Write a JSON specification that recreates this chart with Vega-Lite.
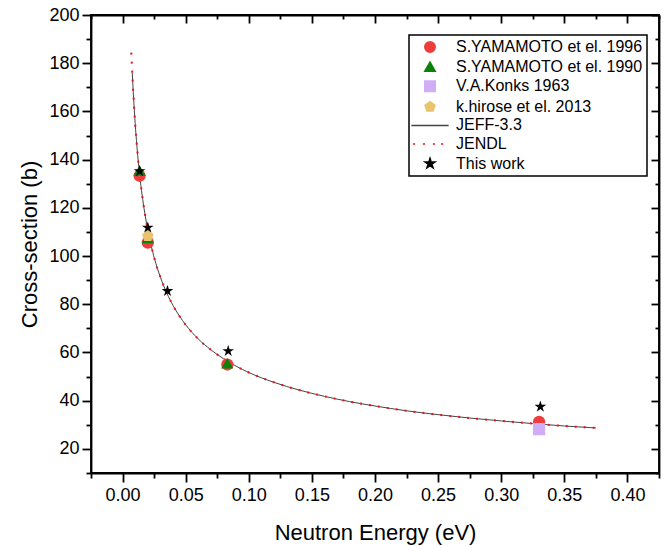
{
  "$schema": "https://vega.github.io/schema/vega-lite/v6.json",
  "width": 568,
  "height": 458,
  "autosize": {"type": "none"},
  "padding": {"left": 91, "top": 15, "right": 11, "bottom": 73},
  "datasets": {
    "curves": [
      {"series": "JEFF-3.3", "E": 0.0077, "xs": 176.1},
      {"series": "JEFF-3.3", "E": 0.0085, "xs": 167.8},
      {"series": "JEFF-3.3", "E": 0.009, "xs": 163.2},
      {"series": "JEFF-3.3", "E": 0.010, "xs": 155.0},
      {"series": "JEFF-3.3", "E": 0.011, "xs": 148.0},
      {"series": "JEFF-3.3", "E": 0.012, "xs": 141.8},
      {"series": "JEFF-3.3", "E": 0.013, "xs": 136.4},
      {"series": "JEFF-3.3", "E": 0.014, "xs": 131.6},
      {"series": "JEFF-3.3", "E": 0.016, "xs": 123.4},
      {"series": "JEFF-3.3", "E": 0.018, "xs": 116.6},
      {"series": "JEFF-3.3", "E": 0.020, "xs": 110.8},
      {"series": "JEFF-3.3", "E": 0.0253, "xs": 98.9},
      {"series": "JEFF-3.3", "E": 0.030, "xs": 91.2},
      {"series": "JEFF-3.3", "E": 0.035, "xs": 84.7},
      {"series": "JEFF-3.3", "E": 0.040, "xs": 79.5},
      {"series": "JEFF-3.3", "E": 0.050, "xs": 71.5},
      {"series": "JEFF-3.3", "E": 0.060, "xs": 65.6},
      {"series": "JEFF-3.3", "E": 0.070, "xs": 61.1},
      {"series": "JEFF-3.3", "E": 0.080, "xs": 57.4},
      {"series": "JEFF-3.3", "E": 0.090, "xs": 54.3},
      {"series": "JEFF-3.3", "E": 0.100, "xs": 51.7},
      {"series": "JEFF-3.3", "E": 0.120, "xs": 47.6},
      {"series": "JEFF-3.3", "E": 0.140, "xs": 44.4},
      {"series": "JEFF-3.3", "E": 0.160, "xs": 41.8},
      {"series": "JEFF-3.3", "E": 0.180, "xs": 39.6},
      {"series": "JEFF-3.3", "E": 0.200, "xs": 37.8},
      {"series": "JEFF-3.3", "E": 0.225, "xs": 35.8},
      {"series": "JEFF-3.3", "E": 0.250, "xs": 34.2},
      {"series": "JEFF-3.3", "E": 0.275, "xs": 32.8},
      {"series": "JEFF-3.3", "E": 0.300, "xs": 31.6},
      {"series": "JEFF-3.3", "E": 0.325, "xs": 30.5},
      {"series": "JEFF-3.3", "E": 0.350, "xs": 29.5},
      {"series": "JEFF-3.3", "E": 0.375, "xs": 28.7},
      {"series": "JENDL", "E": 0.0069, "xs": 184.4},
      {"series": "JENDL", "E": 0.0073, "xs": 180.0},
      {"series": "JENDL", "E": 0.0077, "xs": 176.1},
      {"series": "JENDL", "E": 0.0085, "xs": 167.8},
      {"series": "JENDL", "E": 0.009, "xs": 163.2},
      {"series": "JENDL", "E": 0.010, "xs": 155.0},
      {"series": "JENDL", "E": 0.011, "xs": 148.0},
      {"series": "JENDL", "E": 0.012, "xs": 141.8},
      {"series": "JENDL", "E": 0.013, "xs": 136.4},
      {"series": "JENDL", "E": 0.014, "xs": 131.6},
      {"series": "JENDL", "E": 0.016, "xs": 123.4},
      {"series": "JENDL", "E": 0.018, "xs": 116.6},
      {"series": "JENDL", "E": 0.020, "xs": 110.8},
      {"series": "JENDL", "E": 0.0253, "xs": 98.9},
      {"series": "JENDL", "E": 0.030, "xs": 91.2},
      {"series": "JENDL", "E": 0.035, "xs": 84.7},
      {"series": "JENDL", "E": 0.040, "xs": 79.5},
      {"series": "JENDL", "E": 0.050, "xs": 71.5},
      {"series": "JENDL", "E": 0.060, "xs": 65.6},
      {"series": "JENDL", "E": 0.070, "xs": 61.1},
      {"series": "JENDL", "E": 0.080, "xs": 57.4},
      {"series": "JENDL", "E": 0.090, "xs": 54.3},
      {"series": "JENDL", "E": 0.100, "xs": 51.7},
      {"series": "JENDL", "E": 0.120, "xs": 47.6},
      {"series": "JENDL", "E": 0.140, "xs": 44.4},
      {"series": "JENDL", "E": 0.160, "xs": 41.8},
      {"series": "JENDL", "E": 0.180, "xs": 39.6},
      {"series": "JENDL", "E": 0.200, "xs": 37.8},
      {"series": "JENDL", "E": 0.225, "xs": 35.8},
      {"series": "JENDL", "E": 0.250, "xs": 34.2},
      {"series": "JENDL", "E": 0.275, "xs": 32.8},
      {"series": "JENDL", "E": 0.300, "xs": 31.6},
      {"series": "JENDL", "E": 0.325, "xs": 30.5},
      {"series": "JENDL", "E": 0.350, "xs": 29.5},
      {"series": "JENDL", "E": 0.375, "xs": 28.7}
    ],
    "measurements": [
      {"series": "S.YAMAMOTO et el. 1996", "E": 0.0135, "xs": 133.3},
      {"series": "S.YAMAMOTO et el. 1996", "E": 0.020, "xs": 105.6},
      {"series": "S.YAMAMOTO et el. 1996", "E": 0.083, "xs": 55.0},
      {"series": "S.YAMAMOTO et el. 1996", "E": 0.330, "xs": 31.2},
      {"series": "S.YAMAMOTO et el. 1990", "E": 0.0135, "xs": 135.5},
      {"series": "S.YAMAMOTO et el. 1990", "E": 0.020, "xs": 107.5},
      {"series": "S.YAMAMOTO et el. 1990", "E": 0.083, "xs": 55.5},
      {"series": "V.A.Konks 1963", "E": 0.330, "xs": 28.2},
      {"series": "k.hirose et el. 2013", "E": 0.020, "xs": 108.3},
      {"series": "This work", "E": 0.0135, "xs": 135.2},
      {"series": "This work", "E": 0.020, "xs": 111.8},
      {"series": "This work", "E": 0.0356, "xs": 85.5},
      {"series": "This work", "E": 0.0837, "xs": 60.6},
      {"series": "This work", "E": 0.331, "xs": 37.5}
    ]
  },
  "config": {
    "view": {"stroke": "black", "strokeWidth": 1.8},
    "font": "Liberation Sans",
    "axis": {
      "grid": false,
      "domainColor": "black",
      "domainWidth": 1.8,
      "tickColor": "black",
      "tickWidth": 1.8,
      "labelFont": "Liberation Sans",
      "labelFontSize": 18,
      "labelColor": "black",
      "labelOverlap": false,
      "titleFont": "Liberation Sans",
      "titleFontSize": 22,
      "titleFontWeight": "normal",
      "titleColor": "black"
    },
    "legend": {
      "orient": "none",
      "legendX": 318,
      "legendY": 20,
      "strokeColor": "black",
      "strokeWidth": 1.5,
      "fillColor": "white",
      "padding": 4,
      "symbolOffset": 9,
      "labelOffset": 18,
      "labelFont": "Liberation Sans",
      "labelFontSize": 16,
      "labelColor": "black",
      "labelLimit": 400,
      "symbolSize": 110,
      "rowPadding": 2.6
    }
  },
  "layer": [
    {
      "data": {"name": "curves"},
      "transform": [{"filter": "datum.series === 'JEFF-3.3'"}],
      "mark": {"type": "line", "strokeWidth": 1, "interpolate": "monotone"},
      "encoding": {
        "x": {
          "field": "E", "type": "quantitative",
          "scale": {"domain": [-0.025, 0.425], "nice": false, "zero": false},
          "axis": {
            "orient": "bottom",
            "title": "Neutron Energy (eV)",
            "titleY": 59,
            "titleBaseline": "middle",
            "values": [-0.025, 0, 0.025, 0.05, 0.075, 0.1, 0.125, 0.15, 0.175, 0.2, 0.225, 0.25, 0.275, 0.3, 0.325, 0.35, 0.375, 0.4, 0.425],
            "labelExpr": "abs(datum.value * 20 - round(datum.value * 20)) < 0.001 ? format(datum.value, '.2f') : ''",
            "tickSize": {"condition": {"test": "abs(datum.value * 20 - round(datum.value * 20)) < 0.001", "value": 9}, "value": 5},
            "labelPadding": 4
          }
        },
        "y": {
          "field": "xs", "type": "quantitative",
          "scale": {"domain": [10, 200], "nice": false, "zero": false},
          "axis": {
            "orient": "left",
            "title": "Cross-section (b)",
            "titleX": -62,
            "titleBaseline": "middle",
            "values": [10, 20, 30, 40, 50, 60, 70, 80, 90, 100, 110, 120, 130, 140, 150, 160, 170, 180, 190, 200],
            "labelExpr": "datum.value % 20 === 0 ? format(datum.value, 'd') : ''",
            "tickSize": {"condition": {"test": "datum.value % 20 === 0", "value": 9}, "value": 5},
            "labelPadding": 3
          }
        },
        "color": {
          "field": "series", "type": "nominal", "title": null,
          "scale": {
            "domain": ["S.YAMAMOTO et el. 1996", "S.YAMAMOTO et el. 1990", "V.A.Konks 1963", "k.hirose et el. 2013", "JEFF-3.3", "JENDL", "This work"],
            "range": ["#ee3d3d", "#0b820b", "#cfaef6", "#e9c46c", "#444444", "#e3161e", "#000000"]
          }
        }
      }
    },
    {
      "data": {"name": "curves"},
      "transform": [{"filter": "datum.series === 'JENDL'"}],
      "mark": {"type": "line", "strokeWidth": 2, "strokeDash": [2, 7], "strokeCap": "butt", "interpolate": "monotone"},
      "encoding": {
        "x": {
          "field": "E", "type": "quantitative",
          "scale": {"domain": [-0.025, 0.425], "nice": false, "zero": false},
          "axis": {
            "orient": "top",
            "title": null,
            "labels": false,
            "values": [-0.025, 0, 0.025, 0.05, 0.075, 0.1, 0.125, 0.15, 0.175, 0.2, 0.225, 0.25, 0.275, 0.3, 0.325, 0.35, 0.375, 0.4, 0.425],
            "tickSize": {"condition": {"test": "abs(datum.value * 20 - round(datum.value * 20)) < 0.001", "value": -8}, "value": -4}
          }
        },
        "y": {
          "field": "xs", "type": "quantitative",
          "scale": {"domain": [10, 200], "nice": false, "zero": false},
          "axis": {
            "orient": "right",
            "title": null,
            "labels": false,
            "values": [10, 20, 30, 40, 50, 60, 70, 80, 90, 100, 110, 120, 130, 140, 150, 160, 170, 180, 190, 200],
            "tickSize": {"condition": {"test": "datum.value % 20 === 0", "value": -8}, "value": -4}
          }
        },
        "color": {"field": "series", "type": "nominal", "title": null}
      }
    },
    {
      "data": {"name": "measurements"},
      "mark": {"type": "point", "filled": true, "size": 150, "opacity": 1},
      "encoding": {
        "x": {"field": "E", "type": "quantitative", "axis": null},
        "y": {"field": "xs", "type": "quantitative", "axis": null},
        "color": {"field": "series", "type": "nominal", "title": null},
        "shape": {
          "field": "series", "type": "nominal", "title": null,
          "scale": {
            "domain": ["S.YAMAMOTO et el. 1996", "S.YAMAMOTO et el. 1990", "V.A.Konks 1963", "k.hirose et el. 2013", "JEFF-3.3", "JENDL", "This work"],
            "range": [
              "circle",
              "triangle-up",
              "square",
              "M0,-1L0.951,-0.309L0.588,0.809L-0.588,0.809L-0.951,-0.309Z",
              "M-3.55,0L3.55,0",
              "M-3.25,0L-2.85,0M-1.35,0L-0.95,0M0.55,0L0.95,0M2.1,0L2.5,0",
              "M0,-1L0.2245,-0.309L0.951,-0.309L0.363,0.118L0.588,0.809L0,0.382L-0.588,0.809L-0.363,0.118L-0.951,-0.309L-0.2245,-0.309Z"
            ]
          },
          "legend": {
            "encode": {
              "symbols": {
                "stroke": {"scale": "color", "field": "value"},
                "strokeWidth": {"signal": "datum.value === 'JEFF-3.3' ? 1.2 : datum.value === 'JENDL' ? 2 : 0"}
              }
            }
          }
        }
      }
    }
  ],
  "resolve": {"axis": {"x": "independent", "y": "independent"}}
}
